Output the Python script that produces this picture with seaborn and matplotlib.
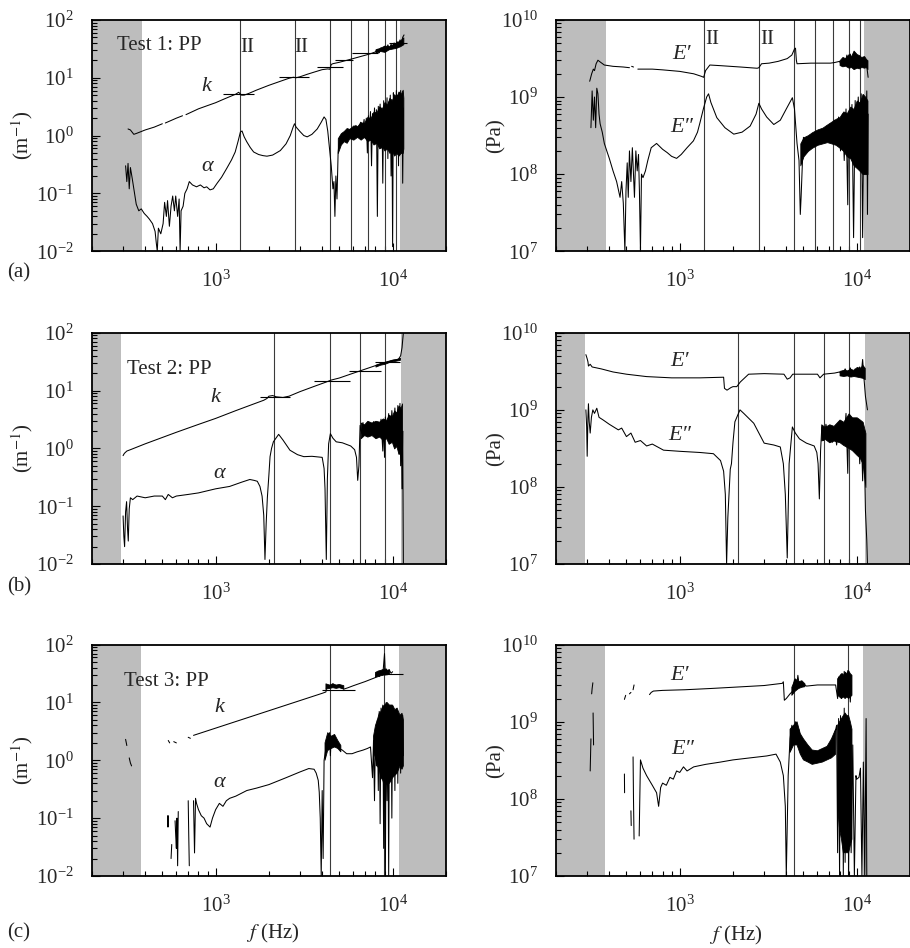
import numpy as np
import pandas as pd
import seaborn as sns
import matplotlib.pyplot as plt
from matplotlib.ticker import LogLocator, NullFormatter

nan = np.nan

# ---------------- Test 1 (row a) ----------------
ka_f = [320, 330, 345, 360, 400, 450, 500, nan, 520, 600,
        650, nan, 680, 800, 900, 1000, 1100, 1200, 1300, 1350,
        1400, 1450, 1550, 1700, 2000, 2300, 2600, 2750, 2850, 3000,
        3300, 3600, 4000, 4300, 4420, 4500, 4600, 5000, 5500, 6000,
        6500, 7000, 7500, 8000, 8200, 8400, 8600, 8800, 9000, 9200,
        9400, 9600, 9800, 10000, 10200, 10400, 10600, 10800, 11000, 11200,
        11400, 11600]
ka_v = [1.30, 1.25, 1.05, 1.1, 1.25, 1.4, 1.6, nan, 1.65, 2.0,
        2.2, nan, 2.3, 2.9, 3.3, 3.7, 4.2, 4.7, 5.2, 5.6,
        5.0, 5.0, 5.4, 6.1, 7.4, 8.6, 9.8, 10.2, 10.0, 10.4,
        11.5, 12.5, 13.8, 14.2, 14.0, 17.0, 17.5, 18.5, 20, 21.5,
        23, 24.5, 26, 28, 31, 27, 33, 29, 35, 30,
        37, 31, 38, 33, 40, 34, 42, 36, 45, 38,
        50, 55]

aa_f = [310, 315, 320, 325, 330, 338, 345, 356, 368, 380,
        395, 410, 422, 440, 455, 462, 468, 475, 490, 505,
        515, 527, 535, 548, 560, 572, 585, 595, 610, 622,
        630, 638, 655, 670, 690, 710, 740, 780, 820, 860,
        890, 930, 970, 1020, 1080, 1155, 1230, 1290, 1340, 1380,
        1410, 1450, 1500, 1570, 1640, 1750, 1850, 1950, 2100, 2320,
        2500, 2640, 2740, 2790, 2850, 3000, 3150, 3290, 3500, 3750,
        3950, 4100, 4200, 4300, 4400, 4500, 4600, 4660, 4720, 4780,
        4850, 4920, 4990, 5100, 5250, 5400, 5600, 5800, 6000, 6200,
        6400, 6600, 6800, 6900, 7000, 7100, 7200, 7300, 7400, 7500,
        7600, 7700, 7800, 7900, 8000, 8100, 8200, 8300, 8400, 8500,
        8600, 8700, 8800, 8900, 9000, 9100, 9200, 9300, 9400, 9500,
        9600, 9700, 9800, 9900, 10000, 10100, 10200, 10300, 10400, 10500,
        10600, 10700, 10800, 10900, 11000, 11100, 11200, 11300, 11400, 11500]
aa_v = [0.30, 0.16, 0.33, 0.12, 0.28, 0.18, 0.12, 0.065, 0.05, 0.054,
        0.045, 0.04, 0.036, 0.03, 0.022, 0.014, 0.01, 0.025, 0.02, 0.03,
        0.07, 0.04, 0.075, 0.027, 0.06, 0.09, 0.05, 0.09, 0.04, 0.08,
        0.01, 0.05, 0.06, 0.1, 0.12, 0.16, 0.14, 0.13, 0.14, 0.125,
        0.13, 0.115, 0.12, 0.15, 0.19, 0.27, 0.38, 0.52, 0.8, 1.15,
        1.2, 0.95, 0.78, 0.62, 0.52, 0.47, 0.45, 0.44, 0.46, 0.55,
        0.72, 1.0, 1.4, 1.6, 1.4, 1.17, 1.0, 0.95, 1.05, 1.3,
        1.7, 2.1, 1.9, 1.2, 0.6, 0.3, 0.12, 0.16, 0.04, 0.2,
        0.08, 0.5, 0.8, 1.0, 0.85, 1.1, 1.2, 1.3, 1.1, 1.5,
        1.3, 1.7, 1.4, 1.9, 0.9, 2.0, 0.5, 2.2, 1.2, 2.6,
        0.3, 2.4, 1.0, 3.0, 0.8, 2.8, 0.04, 3.2, 1.5, 3.5,
        0.6, 3.0, 0.15, 4.0, 0.9, 3.6, 1.8, 4.5, 0.4, 3.8,
        1.2, 5.0, 0.2, 4.2, 0.012, 5.5, 1.5, 4.5, 0.7, 6.0,
        2.0, 5.0, 0.3, 5.5, 1.2, 6.0, 0.8, 5.0, 0.15, 3.0]

ea1_f = [310, 318, 325, 330, 337, 345, 355, 375, 420, 480,
         520, nan, 535, 548, nan, 580, 700, 800, 1000, 1200,
         1330, 1365, 1400, 1480, 1700, 2200, 2740, 2800, 2900, 3200,
         3600, 4050, 4300, 4450, 4510, 4560, 4600, 5500, 7100, 7500,
         8000, 8200, 8400, 8600, 8800, 9000, 9200, 9400, 9600, 9800,
         10000, 10200, 10400, 10600, 10800, 11000, 11200, 11400, 11600]
ea1_v = [1.6e9, 2.0e9, 2.3e9, 2.2e9, 2.7e9, 3.0e9, 2.85e9, 2.6e9, 2.5e9, 2.45e9,
         2.4e9, nan, 2.5e9, 2.45e9, nan, 2.3e9, 2.3e9, 2.25e9, 2.15e9, 2.0e9,
         1.85e9, 1.8e9, 2.2e9, 2.6e9, 2.55e9, 2.45e9, 2.36e9, 2.4e9, 2.7e9, 2.75e9,
         2.9e9, 3.15e9, 3.5e9, 4.2e9, 4.3e9, 3.0e9, 2.7e9, 2.75e9, 2.75e9, 2.8e9,
         2.9e9, 2.6e9, 3.2e9, 2.7e9, 3.5e9, 2.5e9, 3.6e9, 2.7e9, 3.3e9, 2.5e9,
         3.4e9, 2.6e9, 3.2e9, 2.7e9, 3.1e9, 2.6e9, 3.0e9, 2.5e9, 1.8e9]

ea2_f = [315, 320, 325, 330, 335, 340, 345, 350, 355, 365,
         375, 390, 400, 420, 440, 460, 470, 480, 490, 497,
         505, 512, 520, 530, 540, 555, 565, 575, 585, 592,
         600, 608, 620, 640, 660, 690, 740, 800, 850, 900,
         960, 1020, 1100, 1195, 1260, 1300, 1360, 1420, 1455, 1500,
         1620, 1800, 2020, 2250, 2500, 2700, 2800, 2900, 3100, 3400,
         3700, 4000, 4330, 4450, 4600, 4720, 4800, 4850, 4920, 5000,
         5100, 5200, 5300, 5450, 5600, 5750, 5900, 6050, 6200, 6400,
         6600, 6800, 7000, 7100, 7300, 7500, 7700, 7900, 8100, 8300,
         8500, 8700, 8900, 9000, 9200, 9400, 9600, 9800, 10000, 10200,
         10400, 10600, 10800, 11000, 11200, 11400, 11500, 11600]
ea2_v = [4e8, 1.2e9, 5e8, 1.0e9, 4e8, 1.3e9, 1.1e9, 6e8, 4.5e8, 3.5e8,
         2.5e8, 1.9e8, 1.6e8, 1.1e8, 8e7, 5e7, 8e7, 4.2e7, 1e7, 6e7,
         1.4e8, 5e7, 2e8, 8e7, 2.2e8, 5e7, 2e8, 1.1e8, 1.8e8, 6e7,
         1e7, 1e8, 9e7, 1.1e8, 1.5e8, 2.2e8, 2.5e8, 2.1e8, 1.9e8, 1.7e8,
         1.6e8, 1.8e8, 2.2e8, 2.7e8, 3.5e8, 4.6e8, 7e8, 1.0e9, 1.1e9, 8.5e8,
         5.4e8, 4e8, 3.3e8, 3.5e8, 4.2e8, 6e8, 8.3e8, 7e8, 5.5e8, 4.4e8,
         5e8, 7e8, 9.8e8, 7e8, 2.5e8, 1.5e8, 3e7, 5e7, 1.2e8, 3e8,
         1.8e8, 3e8, 2.2e8, 3.2e8, 2.4e8, 3.4e8, 2.6e8, 3.6e8, 2.8e8, 3.8e8,
         3.0e8, 4.2e8, 3.2e8, 4.5e8, 2.8e8, 5e8, 2.5e8, 5.5e8, 2e8, 6e8,
         1.5e8, 7e8, 4e7, 6e8, 2.5e8, 8e8, 1.5e7, 9e8, 2e8, 1.0e9,
         3e8, 1.1e9, 1.5e7, 9e8, 2.5e8, 1.2e9, 3e7, 6e8]

# dense noise bands (lower / upper envelope) for row a
ka_bf = [8000, 8500, 9000, 9500, 10000, 10500, 11000, 11500]
ka_blo = [27, 29, 28, 31, 32, 33, 35, 38]
ka_bhi = [31, 33, 36, 35, 38, 41, 44, 50]
aa_bf = [4900, 5100, 5300, 5500, 5700, 6000, 6300, 6600, 6900, 7200,
         7500, 7800, 8100, 8400, 8700, 9000, 9300, 9600, 9900, 10200,
         10500, 10800, 11100, 11400, 11500]
aa_blo = [0.5, 0.7, 0.8, 0.75, 0.9, 0.85, 0.95, 0.85, 0.95, 0.8,
          0.85, 0.7, 0.75, 0.6, 0.65, 0.55, 0.6, 0.5, 0.55, 0.45,
          0.5, 0.45, 0.5, 0.5, 0.6]
aa_bhi = [0.9, 1.1, 1.2, 1.35, 1.3, 1.5, 1.45, 1.7, 1.65, 2.1,
          2.0, 2.6, 2.5, 3.2, 2.9, 3.8, 3.4, 4.5, 4.0, 5.2,
          4.6, 5.8, 5.2, 6.2, 4.5]
ea1_bf = [8000, 8300, 8600, 9000, 9300, 9600, 10000, 10300, 10600, 11000, 11300, 11500]
ea1_blo = [2.6e9, 2.5e9, 2.55e9, 2.4e9, 2.45e9, 2.3e9, 2.4e9, 2.35e9, 2.45e9, 2.4e9, 2.45e9, 2.3e9]
ea1_bhi = [3.0e9, 3.3e9, 3.2e9, 3.6e9, 3.4e9, 4.0e9, 3.6e9, 3.5e9, 3.3e9, 3.4e9, 3.1e9, 3.0e9]
ea2_bf = [4800, 5000, 5300, 5600, 6000, 6400, 6800, 7200, 7600, 8000,
          8400, 8800, 9200, 9600, 10000, 10400, 10800, 11200, 11500]
ea2_blo = [1.3e8, 1.7e8, 2.0e8, 2.2e8, 2.4e8, 2.5e8, 2.6e8, 2.5e8, 2.4e8, 2.2e8,
           2.0e8, 1.7e8, 1.6e8, 1.3e8, 1.2e8, 1.1e8, 1.0e8, 1.0e8, 1.0e8]
ea2_bhi = [2.5e8, 3.0e8, 3.2e8, 3.5e8, 3.8e8, 4.0e8, 4.4e8, 4.8e8, 5.2e8, 5.5e8,
           6.5e8, 6.2e8, 7.5e8, 7.0e8, 9.0e8, 8.5e8, 1.1e9, 1.0e9, 9e8]

# ---------------- Test 2 (row b) ----------------
kb_f = [300, 305, 315, 330, 400, 600, 800, 1000, 1300, 1600,
        1870, 1950, 2000, 2100, 2200, 2400, 2600, 3000, 3600, 4200,
        4500, 5000, 6000, 7000, 8000, 9000, 10000, 10800, 11100, 11300,
        11500]
kb_v = [0.75, 0.82, 0.9, 0.95, 1.2, 1.9, 2.6, 3.3, 4.5, 5.7,
        6.8, 7.3, 8.0, 8.2, 7.8, 7.6, 8.0, 9.6, 11.8, 14.0,
        15.2, 16.5, 20, 23.5, 27, 30, 33, 35, 40, 55,
        100]

ab_f = [300, 303, 306, 310, 314, 318, 321, 325, 330, 340,
        360, 400, 450, 500, 520, 540, 570, 600, 700, 800,
        1000, 1200, 1400, 1560, 1650, 1720, 1780, 1830, 1870, 1900,
        1930, 1960, 2000, 2030, 2070, 2120, 2270, 2400, 2630, 2900,
        3150, 3500, 4000, 4100, 4150, 4220, 4280, 4350, 4450, 4600,
        4800, 5200, 5800, 6100, 6250, 6350, 6450, 6550, 6700, 6800,
        6900, 7000, 7200, 7400, 7600, 7800, 8000, 8200, 8400, 8600,
        8800, 8900, 9000, 9100, 9300, 9500, 9700, 9900, 10100, 10300,
        10500, 10700, 10900, 11000, 11100, 11200, 11300, 11400, 11500]
ab_v = [0.068, 0.03, 0.02, 0.08, 0.12, 0.04, 0.025, 0.09, 0.14, 0.13,
        0.15, 0.14, 0.15, 0.15, 0.13, 0.16, 0.14, 0.15, 0.16, 0.17,
        0.2, 0.22, 0.26, 0.29, 0.28, 0.27, 0.22, 0.15, 0.07, 0.012,
        0.05, 0.14, 0.35, 0.72, 1.0, 1.3, 1.75, 1.4, 0.93, 0.78,
        0.72, 0.73, 0.7, 0.45, 0.2, 0.012, 0.3, 1.2, 1.8, 1.5,
        1.3, 1.25, 1.1, 0.95, 0.7, 0.28, 0.5, 2.5, 1.8, 2.8,
        1.7, 2.5, 1.9, 2.6, 1.7, 2.9, 1.8, 2.7, 1.6, 3.2,
        0.9, 3.0, 0.7, 3.5, 2.0, 4.0, 1.5, 4.5, 2.0, 5.0,
        1.2, 5.5, 0.8, 6.0, 0.5, 4.0, 0.2, 2.0, 0.01]

eb1_f = [295, 300, 303, 305, 312, 320, 360, 420, 500, 650,
         900, 1300, 1770, 1790, 1850, 1950, 2000, 2100, 2200, 2450,
         3000, 3880, 4050, 4200, 4350, 6000, 6200, 6500, 7500, 8000,
         8300, 8600, 8900, 9200, 9500, 9800, 10100, 10400, 10600, 10800,
         11000, 11200, 11500]
eb1_v = [5.2e9, 4.6e9, 4.2e9, 3.7e9, 3.9e9, 3.6e9, 3.4e9, 3.1e9, 2.9e9, 2.7e9,
         2.6e9, 2.6e9, 2.65e9, 1.9e9, 1.8e9, 1.95e9, 2.0e9, 2.0e9, 2.3e9, 2.9e9,
         2.95e9, 2.9e9, 2.5e9, 2.6e9, 2.9e9, 2.9e9, 2.6e9, 2.9e9, 3.0e9, 3.1e9,
         2.8e9, 3.4e9, 2.9e9, 3.5e9, 2.8e9, 3.4e9, 3.0e9, 3.6e9, 2.9e9, 4.5e9,
         2.5e9, 1.5e9, 1.0e9]

eb2_f = [295, 298, 300, 303, 305, 308, 312, 317, 323, 330,
         340, 350, 369, 400, 450, 470, 500, 530, 560, 600,
         650, 700, 810, 1000, 1300, 1550, 1700, 1770, 1810, 1840,
         1870, 1930, 1960, 2000, 2050, 2190, 2300, 2620, 3000, 3400,
         3700, 3850, 3950, 4050, 4150, 4330, 4500, 4750, 5200, 5750,
         5950, 6050, 6150, 6250, 6350, 6500, 6700, 6900, 7100, 7300,
         7500, 7700, 7900, 8100, 8300, 8500, 8700, 8900, 9000, 9200,
         9400, 9600, 9800, 10000, 10200, 10400, 10600, 10800, 11000, 11200,
         11400, 11500]
eb2_v = [1e9, 6e8, 2.5e8, 8e8, 1.2e9, 7e8, 5e8, 8e8, 1.0e9, 9e8,
         1.05e9, 8e8, 7.4e8, 6.5e8, 5.5e8, 5.8e8, 4.5e8, 5e8, 3.8e8, 4e8,
         3.4e8, 3.6e8, 3e8, 2.9e8, 2.8e8, 2.7e8, 2.2e8, 1.6e8, 8e7, 1e7,
         4e7, 1.7e8, 2e8, 3.8e8, 7e8, 1.0e9, 9e8, 6.7e8, 3.7e8, 3.5e8,
         3.3e8, 2e8, 8e7, 1.2e7, 2e8, 6e8, 5e8, 4.2e8, 3.7e8, 3.4e8,
         2.8e8, 2.0e8, 7e7, 3e8, 6e8, 4e8, 6.5e8, 4.5e8, 6e8, 3.8e8,
         5.5e8, 3.5e8, 6e8, 4e8, 7e8, 4.5e8, 9e8, 1.5e8, 7e8, 3.5e8,
         6e8, 3e8, 7e8, 2.8e8, 6.5e8, 2e8, 6e8, 1.2e8, 4.5e8, 5e7,
         2e7, 1e7]

kb_bf = [8000, 8500, 9000, 9500, 10000, 10500, 11000]
kb_blo = [26, 28, 29, 31, 32, 33, 34]
kb_bhi = [28, 30, 31.5, 33, 34.5, 35, 37]
ab_bf = [6600, 6900, 7200, 7600, 8000, 8400, 8800, 9200, 9500, 9900,
         10200, 10500, 10800, 11100, 11300]
ab_blo = [1.5, 1.7, 1.6, 1.7, 1.5, 1.6, 1.4, 1.5, 1.2, 1.3,
          1.0, 1.1, 0.8, 0.9, 0.6]
ab_bhi = [2.8, 2.6, 3.0, 2.8, 3.0, 2.9, 3.3, 3.1, 3.8, 3.6,
          4.5, 4.2, 5.5, 5.0, 6.0]
eb1_bf = [8000, 8400, 8800, 9200, 9600, 10000, 10400, 10800, 11100]
eb1_blo = [2.8e9, 2.75e9, 2.8e9, 2.7e9, 2.75e9, 2.7e9, 2.65e9, 2.6e9, 2.5e9]
eb1_bhi = [3.2e9, 3.3e9, 3.25e9, 3.4e9, 3.3e9, 3.6e9, 3.5e9, 3.8e9, 3.5e9]
eb2_bf = [6300, 6600, 7000, 7400, 8000, 8400, 9000, 9400, 10000, 10400, 10800, 11200]
eb2_blo = [4e8, 4.2e8, 3.8e8, 4.0e8, 3.8e8, 3.5e8, 3.2e8, 3.0e8, 2.6e8, 2.4e8, 2e8, 1e8]
eb2_bhi = [6.5e8, 6.0e8, 6.5e8, 6.2e8, 7.5e8, 7.0e8, 9e8, 8.0e8, 8e8, 7.5e8, 7e8, 5e8]

# ---------------- Test 3 (row c) ----------------
kc_f = [310, 315, nan, 325, 330, 335, nan, 540, 550, nan,
        580, 600, nan, 700, 720, nan, 750, 1000, 1500, 2000,
        2500, 3000, 3500, 4000, 4200, 4250, 4400, 4600, 4800, 5000,
        5300, 5600, 6000, 7000, 8000, 8200, 8400, 8600, 8800, 9000,
        9100, 9200, 9400, 9600, 9800, 10000]
kc_v = [2.3, 1.8, nan, 1.1, 0.9, 0.8, nan, 2.2, 2.0, nan,
        2.1, 2.0, nan, 2.5, 2.4, nan, 2.7, 3.6, 5.4, 7.2,
        9.0, 10.8, 12.6, 14.4, 15.2, 20, 18, 21, 18, 19.5,
        17, 18, 19.5, 23, 27, 32, 28, 35, 30, 70,
        30, 38, 33, 36, 32, 34]

ac_f = [535, 538, 541, nan, 560, 565, nan, 590, 595, 600,
        605, 610, 615, nan, 700, 705, 710, nan, 750, 760,
        770, 780, 800, 830, 860, 890, 930, 960, 1000, 1050,
        1100, 1150, 1200, 1300, 1500, 1700, 2000, 2500, 3000, 3360,
        3600, 3700, 3800, 3850, 3900, 3950, 4000, 4050, 4100, 4200,
        4300, 4350, 4400, 4450, 4500, 4600, 4700, 4800, 5000, 5200,
        5500, 5900, 6300, 6800, 7200, 7500, 7700, 7800, 7900, 8000,
        8100, 8200, 8300, 8400, 8500, 8600, 8700, 8800, 8900, 9000,
        9100, 9200, 9300, 9400, 9500, 9600, 9700, 9800, 9900, 10000,
        10100, 10200, 10300, 10400, 10500, 10600, 10700, 10800, 10900, 11000,
        11100, 11200, 11300, 11400, 11500]
ac_v = [0.11, 0.07, 0.11, nan, 0.02, 0.035, nan, 0.09, 0.05, 0.03,
        0.1, 0.015, 0.13, nan, 0.2, 0.05, 0.015, nan, 0.2, 0.025,
        0.22, 0.18, 0.14, 0.11, 0.1, 0.08, 0.07, 0.1, 0.14, 0.18,
        0.16, 0.2, 0.22, 0.24, 0.3, 0.33, 0.38, 0.5, 0.63, 0.72,
        0.7, 0.6, 0.45, 0.28, 0.1, 0.01, 0.3, 0.02, 1.0, 1.6,
        2.5, 1.5, 3.0, 1.2, 2.6, 1.8, 2.4, 1.9, 1.6, 1.5,
        1.3, 1.3, 1.4, 1.5, 1.6, 1.7, 0.5, 2.2, 0.2, 3.0,
        0.8, 5.0, 0.3, 7.0, 0.08, 8.0, 0.5, 9.0, 0.03, 6.0,
        0.01, 10.0, 0.2, 7.0, 0.01, 8.0, 0.5, 9.0, 0.1, 6.0,
        0.7, 7.0, 0.3, 6.0, 0.8, 5.0, 0.4, 6.0, 1.5, 5.0,
        0.6, 4.0, 1.0, 6.0, 1.2]

ec1_f = [318, 320, 323, nan, 487, 495, nan, 520, 530, nan,
         545, 552, nan, 675, 690, 710, 800, 1070, 1500, 2000,
         3000, 3800, 3850, 3900, 4000, 4200, 4350, 4450, 4550, 4650,
         4750, 4900, 5200, 6000, 7000, 7600, 7800, 7900, 8000, 8100,
         8200, 8300, 8400, 8500, 8600, 8700, 8800, 8900, 9000, 9100,
         9200, 9300]
ec1_v = [2.3e9, 2.7e9, 3.2e9, nan, 1.95e9, 2.2e9, nan, 2.3e9, 2.4e9, nan,
         2.6e9, 3.0e9, nan, 2.25e9, 2.4e9, 2.5e9, 2.55e9, 2.6e9, 2.7e9, 2.8e9,
         2.95e9, 3.15e9, 3.3e9, 1.9e9, 2.0e9, 2.3e9, 2.5e9, 3.5e9, 2.6e9, 4.0e9,
         2.8e9, 3.2e9, 2.9e9, 3.0e9, 3.0e9, 3.0e9, 2.0e9, 3.8e9, 2.2e9, 4.0e9,
         2.0e9, 4.2e9, 2.3e9, 4.5e9, 2.1e9, 4.0e9, 2.5e9, 4.6e9, 2.4e9, 3.5e9,
         1.8e9, 3.0e9]

ec2_f = [312, 315, nan, 324, 326, nan, 487, 488, nan, 530,
         532, nan, 545, 548, 552, nan, 590, 600, 620, 650,
         700, 740, 760, 780, 800, 840, 880, 920, 960, 1000,
         1050, 1100, 1200, 1400, 1700, 2000, 2500, 3100, 3500, 3700,
         3850, 3950, 4000, 4100, 4200, 4300, 4400, 4500, 4600, 4700,
         4900, 5300, 6000, 6500, 7000, 7400, 7700, 7800, 7900, 8000,
         8100, 8200, 8300, 8400, 8500, 8600, 8700, 8800, 8900, 9000,
         9100, 9300, 9500, 9700, 9900, 10000, 10300, 10500, 10700, 10900,
         11100, 11300, 11400]
ec2_v = [2.3e8, 6e8, nan, 1.3e9, 5e8, nan, 2.1e8, 1.2e8, nan, 7e7,
         4.5e7, nan, 3.5e8, 1e8, 3e7, nan, 3.3e7, 3.2e8, 2.5e8, 2e8,
         1.5e8, 1.2e8, 8e7, 1.4e8, 1.6e8, 1.5e8, 1.9e8, 1.8e8, 2.3e8, 2.2e8,
         2.6e8, 2.3e8, 2.6e8, 2.8e8, 3.0e8, 3.2e8, 3.4e8, 3.6e8, 3.8e8, 3.0e8,
         2e8, 8e7, 1e7, 2e8, 6e8, 9e8, 6e8, 1.0e9, 7e8, 8e8,
         5e8, 4.3e8, 3.5e8, 4e8, 4.5e8, 6e8, 9e8, 2e7, 1.1e9, 1e7,
         1.2e9, 5e7, 1.0e9, 1e7, 1.5e9, 1.5e7, 1.2e9, 3e7, 1.0e9, 1e7,
         8e8, 2e7, 5e8, 1e7, 2e8, 1.8e8, 1.9e8, 2.5e8, 1e7, 3e8,
         1e7, 1.1e9, 1e7]

kc_bf = [4200, 4400, 4600, 4800, 5000, 5300, nan, 8000, 8300, 8600, 9000, 9300, 9600]
kc_blo = [17, 17.5, 18, 17.5, 18, 17, nan, 27, 28, 29, 30, 30, 31]
kc_bhi = [21, 20, 21, 20, 20.5, 19.5, nan, 33, 35, 36, 38, 36, 37]
ac_bf = [4150, 4300, 4500, 4700, 4900, 5100, nan, 7800, 8000, 8200, 8400, 8600, 8800,
         9000, 9300, 9600, 10000, 10300, 10600, 11000, 11300, 11500]
ac_blo = [1.0, 1.5, 1.6, 1.7, 1.6, 1.4, nan, 1.4, 1.1, 0.8, 0.7, 0.5, 0.45,
          0.35, 0.4, 0.4, 0.5, 0.55, 0.6, 0.8, 0.7, 0.8]
ac_bhi = [2.0, 3.0, 2.6, 2.8, 2.2, 1.8, nan, 2.6, 4.0, 5.0, 6.5, 7.0, 8.5,
          9.0, 10, 9.0, 9.0, 7.5, 8.0, 6.0, 6.5, 5.0]
ec1_bf = [4300, 4500, 4700, 4900, 5100, nan, 7800, 8000, 8200, 8400, 8600, 8800, 9000, 9200, 9400]
ec1_blo = [2.2e9, 2.5e9, 2.7e9, 2.8e9, 2.85e9, nan, 2.2e9, 2.1e9, 2.0e9, 2.1e9, 2.0e9, 2.1e9, 2.0e9, 2.1e9, 2.2e9]
ec1_bhi = [2.8e9, 3.6e9, 3.3e9, 3.4e9, 3.1e9, nan, 3.6e9, 3.9e9, 4.2e9, 4.0e9, 4.4e9, 4.2e9, 4.6e9, 4.2e9, 4.0e9]
ec2_bf = [4200, 4400, 4600, 4800, 5000, 5300, 5600, 6000, 6400, 6800, 7200, 7600, nan,
          7800, 8000, 8200, 8400, 8600, 8800, 9000, 9200, 9400]
ec2_blo = [4e8, 5e8, 5e8, 3.8e8, 3.2e8, 3.0e8, 2.8e8, 2.9e8, 3.0e8, 3.2e8, 3.4e8, 3.8e8, nan,
           8e7, 4e7, 3e7, 2e7, 2e7, 2e7, 2e7, 2.5e7, 3e7]
ec2_bhi = [8e8, 9e8, 1.0e9, 7e8, 6e8, 5e8, 4.3e8, 4.2e8, 4.5e8, 4.8e8, 6e8, 8e8, nan,
           9e8, 1.0e9, 1.1e9, 1.2e9, 1.3e9, 1.2e9, 1.2e9, 1.0e9, 8e8]

# resonance lines, shaded (unusable) bands, short horizontal marks on k
vlines = {"a": [1370, 2800, 4400, 5800, 7300, 9000, 10400],
          "b": [2130, 4400, 6500, 9100],
          "c": [4400, 8900]}
shade = {"a": (385, 11000), "b": (292, 11100), "c": (380, 10800)}
hseg_f0 = {"a": [1100, 2270, 3760, 4700, 5900, 9500],
           "b": [1780, 3590, 5700, 8000],
           "c": [4000, 8000]}
hseg_f1 = {"a": [1640, 3360, 5220, 6000, 8300, 12000],
           "b": [2630, 5760, 8570, 11000],
           "c": [6150, 11400]}
hseg_v = {"a": [5.2, 10.5, 15.5, 20.5, 27, 40],
          "b": [7.7, 14.5, 22, 31],
          "c": [16.2, 31]}

sns.set_style("ticks")
plt.rcParams["font.family"] = ["Liberation Serif", "DejaVu Serif"]
plt.rcParams["mathtext.fontset"] = "stix"
FS = 15


def curve(ax, f, v):
    df = pd.DataFrame({"f": f, "v": v})
    df["seg"] = df["v"].isna().cumsum()
    df = df.dropna()
    sns.lineplot(data=df, x="f", y="v", units="seg", estimator=None,
                 sort=False, color="black", lw=0.75, ax=ax, legend=False)


def band(ax, f, lo, hi):
    ax.fill_between(f, lo, hi, color="black", lw=0.6, edgecolor="black", zorder=2)


def frame(ax, ylim):
    ax.set_xscale("log")
    ax.set_yscale("log")
    ax.set_xlim(200, 20000)
    ax.set_ylim(*ylim)
    ax.xaxis.set_major_locator(LogLocator(base=10, numticks=10))
    ax.xaxis.set_minor_locator(LogLocator(base=10, subs=np.arange(2, 10), numticks=20))
    ax.yaxis.set_major_locator(LogLocator(base=10, numticks=10))
    ax.yaxis.set_minor_locator(LogLocator(base=10, subs=np.arange(2, 10), numticks=20))
    ax.xaxis.set_minor_formatter(NullFormatter())
    ax.yaxis.set_minor_formatter(NullFormatter())
    ax.tick_params(which="both", direction="in", top=False, right=False,
                   labelsize=FS, color="black", width=0.8)
    ax.tick_params(which="major", length=6)
    ax.tick_params(which="minor", length=3.5)
    ax.tick_params(axis="x", pad=14)
    ax.tick_params(axis="y", pad=13)
    for s in ax.spines.values():
        s.set_linewidth(1.3)
        s.set_color("black")
        s.set_visible(True)
    ax.set(xlabel="", ylabel="")


def backdrop(ax, key):
    lo, hi = shade[key]
    ax.axvspan(200, lo, color="#bdbdbd", lw=0, zorder=0)
    ax.axvspan(hi, 20000, color="#bdbdbd", lw=0, zorder=0)
    for x in vlines[key]:
        ax.axvline(x, color="#3a3a3a", lw=0.8, zorder=1)


fig = plt.figure(figsize=(9.1, 9.48), dpi=100)
bottoms = {"a": 0.735, "b": 0.405, "c": 0.076}
W, H = 0.389, 0.244

rows = [
    ("a", (ka_f, ka_v, ka_bf, ka_blo, ka_bhi), (aa_f, aa_v, aa_bf, aa_blo, aa_bhi),
     (ea1_f, ea1_v, ea1_bf, ea1_blo, ea1_bhi), (ea2_f, ea2_v, ea2_bf, ea2_blo, ea2_bhi), "Test 1: PP"),
    ("b", (kb_f, kb_v, kb_bf, kb_blo, kb_bhi), (ab_f, ab_v, ab_bf, ab_blo, ab_bhi),
     (eb1_f, eb1_v, eb1_bf, eb1_blo, eb1_bhi), (eb2_f, eb2_v, eb2_bf, eb2_blo, eb2_bhi), "Test 2: PP"),
    ("c", (kc_f, kc_v, kc_bf, kc_blo, kc_bhi), (ac_f, ac_v, ac_bf, ac_blo, ac_bhi),
     (ec1_f, ec1_v, ec1_bf, ec1_blo, ec1_bhi), (ec2_f, ec2_v, ec2_bf, ec2_blo, ec2_bhi), "Test 3: PP"),
]
lab_pos = {"a": [(880, 7.0), (890, 0.29), (1026, 3.6e9), (1026, 4.0e8)],
           "b": [(1000, 7.7), (1050, 0.37), (1000, 4.2e9), (1000, 4.7e8)],
           "c": [(1050, 8.3), (1050, 0.41), (1000, 4.0e9), (1040, 4.4e8)]}
test_x = {"a": 0.07, "b": 0.10, "c": 0.09}
test_y = {"a": 0.89, "b": 0.84, "c": 0.84}
letter_y = {"a": 0.712, "b": 0.381, "c": 0.016}
lab_font = dict(fontsize=FS + 1, ha="center", va="center", style="italic")

for key, kd, ad, e1d, e2d, title in rows:
    axl = fig.add_axes([0.101, bottoms[key], W, H])
    frame(axl, (1e-2, 1e2))
    backdrop(axl, key)
    for f, v, bf, blo, bhi in (kd, ad):
        curve(axl, f, v)
        band(axl, bf, blo, bhi)
    axl.hlines(hseg_v[key], hseg_f0[key], hseg_f1[key], color="black", lw=0.8)
    frame(axl, (1e-2, 1e2))
    axl.text(test_x[key], test_y[key], title, transform=axl.transAxes,
             fontsize=FS, va="center")
    (kx, ky), (ax_, ay), (e1x, e1y), (e2x, e2y) = lab_pos[key]
    axl.text(kx, ky, "k", **lab_font)
    axl.text(ax_, ay, "α", **lab_font)

    axr = fig.add_axes([0.611, bottoms[key], W, H])
    frame(axr, (1e7, 1e10))
    backdrop(axr, key)
    for f, v, bf, blo, bhi in (e1d, e2d):
        curve(axr, f, v)
        band(axr, bf, blo, bhi)
    frame(axr, (1e7, 1e10))
    axr.text(e1x, e1y, "E′", **lab_font)
    axr.text(e2x, e2y, "E″", **lab_font)

    if key == "a":
        for fx in (1500, 3040):
            axl.text(fx, 33, "II", fontsize=FS, ha="center", va="center")
        for fx in (1520, 3120):
            axr.text(fx, 5.6e9, "II", fontsize=FS, ha="center", va="center")

    yc = bottoms[key] + H / 2
    fig.text(0.024, yc, "(m$^{-1}$)", rotation=90, fontsize=FS, ha="center", va="center")
    fig.text(0.545, yc, "(Pa)", rotation=90, fontsize=FS, ha="center", va="center")
    fig.text(0.008, letter_y[key], f"({key})", fontsize=FS, ha="left", va="center")

fig.text(0.30, 0.015, "$f$ (Hz)", fontsize=FS, ha="center", va="center")
fig.text(0.808, 0.013, "$f$ (Hz)", fontsize=FS, ha="center", va="center")

fig.savefig("out.png", dpi=100)
